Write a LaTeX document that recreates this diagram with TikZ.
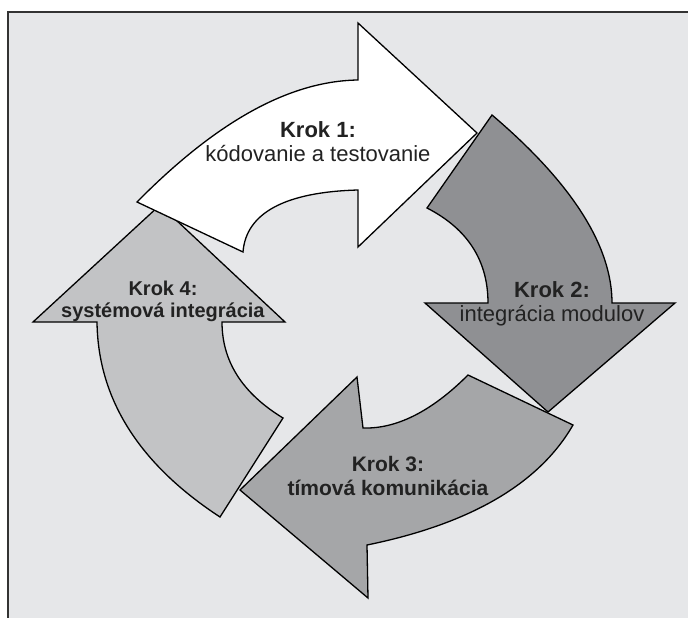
\documentclass[tikz,border=0pt]{standalone}
\usepackage{fontspec}
\setmainfont{Liberation Sans}
\usepackage{tikz}

\definecolor{bggray}{HTML}{E6E7E9}
\definecolor{darkgray2}{HTML}{8F9093}
\definecolor{midgray3}{HTML}{A5A6A8}
\definecolor{lightgray4}{HTML}{C2C3C5}
\definecolor{textgray}{HTML}{222222}

\begin{document}
\begin{tikzpicture}[x=1pt,y=-1pt,
    arrowshape/.style={draw=black, line width=1.3pt, line join=miter},
    steplabel/.style={align=center, text=textgray, inner sep=0pt,
      font=\fontsize{22}{24}\selectfont}]
  \useasboundingbox (0,0) rectangle (688,618);
  \fill[bggray] (8,12) rectangle (688,618);
  \draw[line width=2pt, black!80] (688,12) -- (8,12) -- (8,618);
  % Krok 4
  \filldraw[arrowshape, fill=lightgray4] (222,322) -- (285,322) -- (160,205) -- (33,322) -- (97,322)
    .. controls (98,399) and (139,464) .. (220,517) -- (283,418)
    .. controls (242,393) and (222,361) .. cycle;
  % Krok 1
  \filldraw[arrowshape, fill=white] (137,202) .. controls (216,122) and (289,81) .. (358,80)
    -- (358,23) -- (477,133) -- (358,247) -- (358,190)
    .. controls (285,192) and (246,213) .. (243,252) -- cycle;
  % Krok 2
  \filldraw[arrowshape, fill=darkgray2] (492,115) .. controls (572,183) and (612,246) .. (612,303)
    -- (675,303) -- (548,412) -- (425,303) -- (488,303)
    .. controls (488,261) and (468,229) .. (427,208) -- cycle;
  % Krok 3
  \filldraw[arrowshape, fill=midgray3] (573,425) .. controls (539,484) and (470,524) .. (367,545)
    -- (368,598) -- (240,490) -- (357,377) -- (363,428)
    .. controls (396,429) and (431,412) .. (468,375) -- cycle;
  \node[steplabel] (krok1) at (318,142) {\textbf{Krok 1:}\\kódovanie a testovanie};
  \node[steplabel] (krok2) at (552,304) {\textbf{Krok 2:}\\integrácia modulov};
  \node[steplabel, font=\fontsize{21}{24}\selectfont] (krok3) at (388,476) {\textbf{Krok 3:}\\\textbf{tímová komunikácia}};
  \node[steplabel, font=\fontsize{20}{22}\selectfont] (krok4) at (163,301) {\textbf{Krok 4:}\\\textbf{systémová integrácia}};
\end{tikzpicture}
\end{document}
